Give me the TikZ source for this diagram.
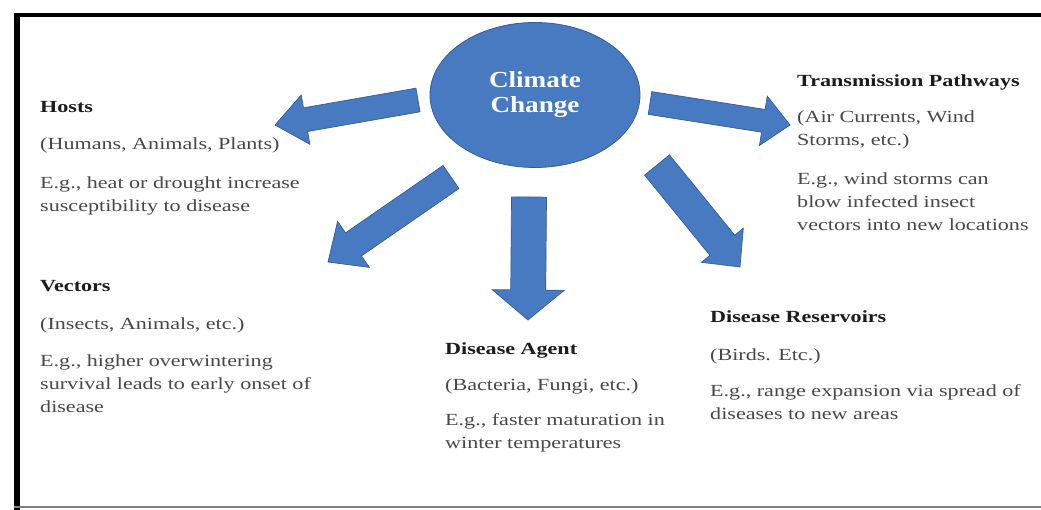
\documentclass[tikz,border=0pt]{standalone}
\usepackage{fontspec}
\setmainfont{Liberation Serif}[FakeStretch=1.3]
\newfontfamily\ccfont{Liberation Serif}[FakeStretch=1.18]
\usetikzlibrary{shapes.geometric,calc}
\definecolor{ccblue}{RGB}{71,122,193}
\definecolor{ccedge}{RGB}{52,92,152}
\definecolor{bodygray}{RGB}{72,72,72}
\definecolor{titlegray}{RGB}{28,28,28}

\begin{document}
\begin{tikzpicture}[x=1pt, y=-1pt,
  climate/.style={ellipse, fill=ccblue, draw=ccedge, line width=0.8pt, minimum width=210pt, minimum height=145pt, inner sep=0pt, align=center, text=white, font=\ccfont\bfseries\fontsize{23}{25}\selectfont},
  title/.style={anchor=base west, inner sep=0pt, text=titlegray, font=\bfseries\fontsize{17}{23}\selectfont},
  body/.style={anchor=base west, inner sep=0pt, align=left, text=bodygray, font=\fontsize{17}{23}\selectfont},
  blockarrow/.style n args={3}{fill=ccblue, draw=ccedge, line width=0.7pt, to path={
    ($(\tikztotarget)!#3!(\tikztostart)$) coordinate (hb)
    ($(\tikztostart)!#1!90:(\tikztotarget)$) -- ($(hb)!#1!90:(\tikztotarget)$)
    -- ($(hb)!#2!90:(\tikztotarget)$) -- (\tikztotarget)
    -- ($(hb)!#2!-90:(\tikztotarget)$) -- ($(hb)!#1!-90:(\tikztotarget)$)
    -- ($(\tikztostart)!#1!-90:(\tikztotarget)$) -- cycle}}]
\useasboundingbox (0,0) rectangle (1041,510);
\fill[white] (0,0) rectangle (1041,510);

% frame
\draw[line width=6pt] (17,13) -- (17,510);
\draw[line width=4pt] (14,15) -- (1041,15);
\draw[gray, line width=2pt] (14,507) -- (1041,507);

\node[climate] (cc) at (535,95) {Climate\\Change};

% texts (multi-line ones sit on their last line)
\node[title] (hosts) at (40,113) {Hosts};
\node[body] (hosts kind) at (40,150) {(Humans, Animals, Plants)};
\node[body] (hosts eg) at (40,212) {E.g., heat or drought increase\\susceptibility to disease};

\node[title] (vectors) at (40,292) {Vectors};
\node[body] (vectors kind) at (40,330) {(Insects, Animals, etc.)};
\node[body] (vectors eg) at (40,412) {E.g., higher overwintering\\survival leads to early onset of\\disease};

\node[title] (agent) at (445,355) {Disease Agent};
\node[body] (agent kind) at (445,390) {(Bacteria, Fungi, etc.)};
\node[body] (agent eg) at (445,448) {E.g., faster maturation in\\winter temperatures};

\node[title] (reservoirs) at (710,323) {Disease Reservoirs};
\node[body] (reservoirs kind) at (710,361) {(Birds. Etc.)};
\node[body] (reservoirs eg) at (710,419) {E.g., range expansion via spread of\\diseases to new areas};

\node[title] (pathways) at (797,87) {Transmission Pathways};
\node[body] (pathways kind) at (797,146) {(Air Currents, Wind\\Storms, etc.)};
\node[body] (pathways eg) at (797,231) {E.g., wind storms can\\blow infected insect\\vectors into new locations};

% arrow ends
\coordinate (hosts from) at (418,100);
\coordinate (hosts to) at (275,125);
\coordinate (vectors from) at (451,177);
\coordinate (vectors to) at (328,262);
\coordinate (agent from) at (529,197);
\coordinate (agent to) at (528,320);
\coordinate (reservoirs from) at (657,165);
\coordinate (reservoirs to) at (740,267);
\coordinate (pathways from) at (650,103);
\coordinate (pathways to) at (790,125);

\path
(hosts from) edge[blockarrow={12pt}{25pt}{31pt}] (hosts to)
(vectors from) edge[blockarrow={14pt}{28pt}{31pt}] (vectors to)
(agent from) edge[blockarrow={17.5pt}{36pt}{30pt}] (agent to)
(reservoirs from) edge[blockarrow={16pt}{27pt}{28pt}] (reservoirs to)
(pathways from) edge[blockarrow={11.5pt}{25pt}{27pt}] (pathways to);
\end{tikzpicture}
\end{document}
